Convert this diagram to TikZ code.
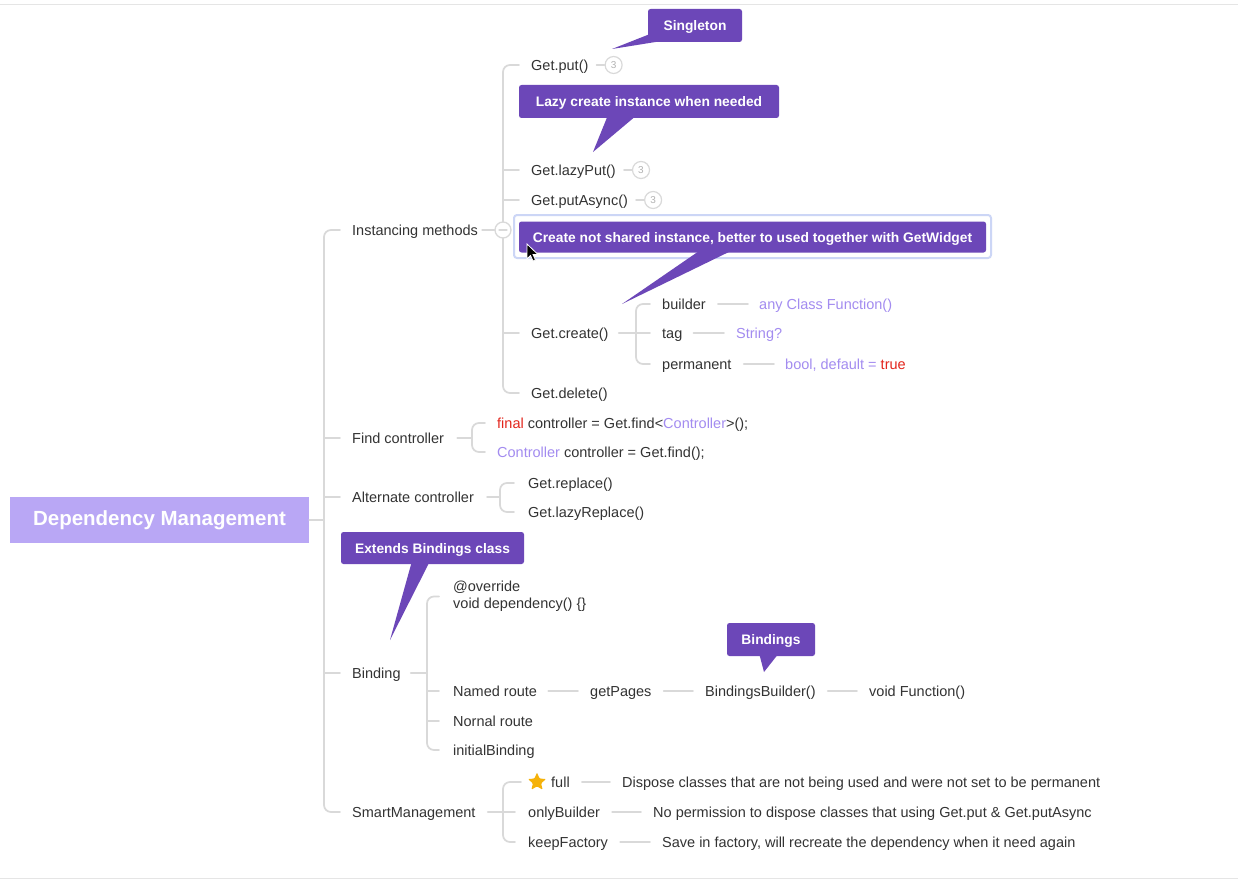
\documentclass[tikz,border=0pt]{standalone}
\usepackage{fontspec}
\setmainfont{Liberation Sans}
\usetikzlibrary{shapes.geometric}
\definecolor{tc}{HTML}{333333}
\definecolor{cn}{HTML}{D9D9D9}
\definecolor{pp}{HTML}{6C47B8}
\definecolor{rootc}{HTML}{B9A7F5}
\definecolor{lp}{HTML}{A38CF0}
\definecolor{rd}{HTML}{E3261D}
\definecolor{hl}{HTML}{CCD6F6}
\definecolor{stc}{HTML}{F5B20A}
\begin{document}
\begin{tikzpicture}[x=1pt,y=-1pt,
 t/.style={font=\fontsize{14.5}{17}\selectfont, text=tc, inner sep=0, anchor=west, text height=10.4, text depth=0},
 conn/.style={draw=cn, line width=1.7, line cap=round},
 trk/.style={conn, rounded corners=7},
 callout/.style={fill=pp, rounded corners=2.5, text=white, font=\fontsize{13.8}{16}\selectfont\bfseries, inner sep=0, text height=10, text depth=0},
 ptr/.style={fill=pp},
 cnt/.style={circle, draw=cn, line width=1.2, fill=white, minimum size=17, inner sep=0, font=\fontsize{10}{10}\selectfont, text=black!30}
]
\useasboundingbox (0,0) rectangle (1238,880);
\fill[white] (0,0) rectangle (1238,880);
\draw[black!10, line width=1] (0,5) -- (1238,5);
\draw[black!10, line width=1] (0,878) -- (1238,878);

% trunk x positions
\coordinate (tR) at (324,0);
\coordinate (tI) at (503,0);
\coordinate (tC) at (636,0);
\coordinate (tF) at (472,0);
\coordinate (tA) at (500,0);
\coordinate (tB) at (427,0);
\coordinate (tS) at (503,0);

% root
\node[fill=rootc, minimum width=299, minimum height=46, inner sep=0, text=white,
      font=\fontsize{20.5}{24}\selectfont\bfseries] (root) at (159.5,520) {Dependency Management};

% level 1
\node[t] (im) at (352,230) {Instancing methods};
\node[t] (fc) at (352,438) {Find controller};
\node[t] (ac) at (352,497) {Alternate controller};
\node[t] (bd) at (352,673) {Binding};
\node[t] (sm) at (352,812) {SmartManagement};

% instancing children
\node[t] (put) at (531,65) {Get.put()};
\node[t] (lput) at (531,170) {Get.lazyPut()};
\node[t] (pas) at (531,200) {Get.putAsync()};
\node[t] (cre) at (531,333) {Get.create()};
\node[t] (del) at (531,393) {Get.delete()};
\node[cnt] (n1) at ([xshift=25]put.east) {3};
\node[cnt] (n2) at ([xshift=25]lput.east) {3};
\node[cnt] (n3) at ([xshift=25]pas.east) {3};

% create children
\node[t] (bld) at (662,304) {builder};
\node[t] (tag) at (662,333) {tag};
\node[t] (perm) at (662,364) {permanent};
\node[t, text=lp] (bldv) at (759,304) {any Class Function()};
\node[t, text=lp] (tagv) at (736,333) {String?};
\node[t, text=lp] (permv) at (785,364) {bool, default = \textcolor{rd}{true}};

% find / alternate
\node[t] (f1) at (497,423) {\textcolor{rd}{final} controller = Get.find<\textcolor{lp}{Controller}>();};
\node[t] (f2) at (497,452) {\textcolor{lp}{Controller} controller = Get.find();};
\node[t] (r1) at (528,483) {Get.replace()};
\node[t] (r2) at (528,512) {Get.lazyReplace()};

% binding
\node[font=\fontsize{14.5}{17}\selectfont, text=tc, inner sep=0, anchor=west, align=left] (ov) at (453,596.5) {@override\\void dependency() \{\}};
\node[t] (nr) at (453,691) {Named route};
\node[t] (nor) at (453,721) {Nornal route};
\node[t] (ib) at (453,750) {initialBinding};
\node[t] (gp) at (590,691) {getPages};
\node[t] (bb) at (705,691) {BindingsBuilder()};
\node[t] (vf) at (869,691) {void Function()};

% smart management
\node[star, star points=5, star point ratio=2.2, fill=stc, minimum size=19, inner sep=0, rounded corners=1] (st) at (537,782) {};
\node[t] (full) at (551,782) {full};
\node[t] (ob) at (528,812) {onlyBuilder};
\node[t] (kf) at (528,842) {keepFactory};
\node[t] (fd) at (622,782) {Dispose classes that are not being used and were not set to be permanent};
\node[t] (obd) at (653,812) {No permission to dispose classes that using Get.put \& Get.putAsync};
\node[t] (kfd) at (662,842) {Save in factory, will recreate the dependency when it need again};

% ---- connectors ----
\draw[conn] (root.east) -- (root.east -| tR);
\draw[trk] ([xshift=-12]im.west) -- (im.west -| tR) -- (sm.west -| tR) -- ([xshift=-12]sm.west);
\foreach \n in {fc,ac,bd} \draw[conn] (\n.west -| tR) -- ([xshift=-12]\n.west);

\draw[conn] ([xshift=4]im.east) -- (im.east -| tI);
\draw[trk] ([xshift=-12]put.west) -- (put.west -| tI) -- (del.west -| tI) -- ([xshift=-12]del.west);
\foreach \n in {lput,pas,cre} \draw[conn] (\n.west -| tI) -- ([xshift=-12]\n.west);
\node[circle, draw=cn, line width=1.3, fill=white, minimum size=16, inner sep=0] (col) at (im.east -| tI) {};
\draw[conn, line width=1.2] ([xshift=-4]col.center) -- ([xshift=4]col.center);
\draw[conn] ([xshift=8]put.east) -- (n1.west);
\draw[conn] ([xshift=8]lput.east) -- (n2.west);
\draw[conn] ([xshift=8]pas.east) -- (n3.west);

\draw[conn] ([xshift=10]cre.east) -- (cre.east -| tC);
\draw[trk] ([xshift=-12]bld.west) -- (bld.west -| tC) -- (perm.west -| tC) -- ([xshift=-12]perm.west);
\draw[conn] (tag.west -| tC) -- ([xshift=-12]tag.west);
\draw[conn] ([xshift=12]bld.east) -- ([xshift=-11]bldv.west);
\draw[conn] ([xshift=11]tag.east) -- ([xshift=-12]tagv.west);
\draw[conn] ([xshift=12]perm.east) -- ([xshift=-11]permv.west);

\draw[conn] ([xshift=13]fc.east) -- (fc.east -| tF);
\draw[trk] ([xshift=-12]f1.west) -- (f1.west -| tF) -- (f2.west -| tF) -- ([xshift=-12]f2.west);
\draw[conn] ([xshift=13]ac.east) -- (ac.east -| tA);
\draw[trk] ([xshift=-14]r1.west) -- (r1.west -| tA) -- (r2.west -| tA) -- ([xshift=-14]r2.west);

\draw[conn] ([xshift=10]bd.east) -- (bd.east -| tB);
\draw[trk] ([xshift=-14]ov.west) -- (ov.west -| tB) -- (ib.west -| tB) -- ([xshift=-14]ib.west);
\foreach \n in {nr,nor} \draw[conn] (\n.west -| tB) -- ([xshift=-14]\n.west);
\draw[conn] ([xshift=11]nr.east) -- ([xshift=-12]gp.west);
\draw[conn] ([xshift=12]gp.east) -- ([xshift=-12]bb.west);
\draw[conn] ([xshift=12]bb.east) -- ([xshift=-12]vf.west);

\draw[conn] ([xshift=12]sm.east) -- (sm.east -| tS);
\draw[trk] ([xshift=-10]st.west) -- (st.west -| tS) -- (kf.west -| tS) -- ([xshift=-13]kf.west);
\draw[conn] (ob.west -| tS) -- ([xshift=-13]ob.west);
\draw[conn] ([xshift=12]full.east) -- ([xshift=-12]fd.west);
\draw[conn] ([xshift=12]ob.east) -- ([xshift=-12]obd.west);
\draw[conn] ([xshift=12]kf.east) -- ([xshift=-12]kfd.west);

% ---- callouts ----
\draw[hl, line width=2, rounded corners=3, fill=white] (514,215) rectangle (991,258);
\coordinate (p1) at (612,49);
\coordinate (p2) at (593,152);
\coordinate (p3) at (622,304);
\coordinate (p4) at (390,640);
\coordinate (p5) at (764,672);
\fill[ptr] (650,34) -- (p1) -- (668,40) -- cycle;
\fill[ptr] (608,115) -- (p2) -- (637,115) -- cycle;
\fill[ptr] (702,249) -- (p3) -- (735,249) -- cycle;
\fill[ptr] (412,561) -- (p4) -- (430,561) -- cycle;
\fill[ptr] (759,653) -- (p5) -- (779,653) -- cycle;
\node[callout, minimum width=94, minimum height=33] (cs) at (695,25.5) {Singleton};
\node[callout, minimum width=260, minimum height=33] (cl) at (649,101.5) {Lazy create instance when needed};
\node[callout, minimum width=467, minimum height=31] (cc) at (752.5,237) {Create not shared instance, better to used together with GetWidget};
\node[callout, minimum width=183, minimum height=32] (ce) at (432.5,548) {Extends Bindings class};
\node[callout, minimum width=88, minimum height=33] (cb) at (771,639.5) {Bindings};

% mouse cursor
\filldraw[fill=black, draw=white, line width=0.8] (527,244) -- (527,259) -- (530.5,255.5) -- (533,261) -- (535.5,260) -- (533,254.5) -- (538,254.5) -- cycle;
\end{tikzpicture}
\end{document}
